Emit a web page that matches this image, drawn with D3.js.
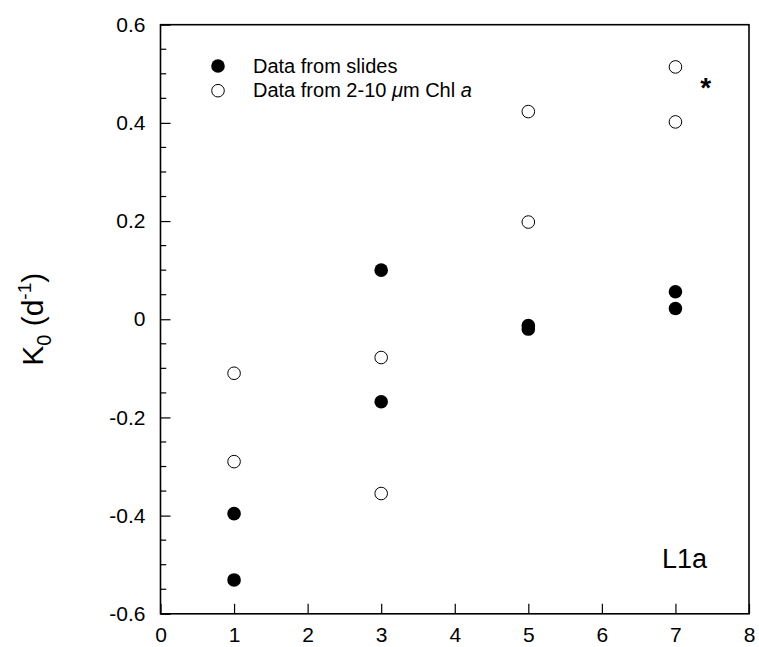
<!DOCTYPE html>
<html>
<head>
<meta charset="utf-8">
<script src="https://cdn.jsdelivr.net/npm/d3@7"></script>
<style>
  html, body { margin: 0; padding: 0; background: #fff; }
  svg { display: block; font-family: "Liberation Sans", Arial, Helvetica, sans-serif; }
</style>
</head>
<body>
<svg id="chart" width="759" height="647"></svg>
<script>
// ---- data ----
const xTicks = [0, 1, 2, 3, 4, 5, 6, 7, 8];
const yTicks = [-0.6, -0.4, -0.2, 0, 0.2, 0.4, 0.6];
const yTickLabels = ["-0.6", "-0.4", "-0.2", "0", "0.2", "0.4", "0.6"];
const slidesX = [1, 1, 3, 3, 5, 5, 7, 7];
const slidesY = [-0.396, -0.531, 0.100, -0.168, -0.013, -0.020, 0.056, 0.022];
const chlX = [1, 1, 3, 3, 5, 5, 7, 7];
const chlY = [-0.110, -0.290, -0.078, -0.355, 0.423, 0.198, 0.514, 0.402];
const legendLabels = ["Data from slides", "Data from 2-10 "];
const panelLabel = "L1a";
const starPos = [7.41, 0.48];

// ---- layout ----
const svg = d3.select("#chart");
const L = 160.5, R = 749, T = 24.7, B = 613.8;
const x = d3.scaleLinear().domain([0, 8]).range([L, R]);
const y = d3.scaleLinear().domain([-0.6, 0.6]).range([B, T]);
const font = "'Liberation Sans', Arial, Helvetica, sans-serif";

// minor ticks on y
const yMinor = d3.range(-0.6, 0.6001, 0.05).filter(v => Math.abs(Math.round(v * 5) - v * 5) > 1e-6);
svg.append("g").selectAll("line").data(yMinor).join("line")
  .attr("x1", L).attr("x2", L + 5.7)
  .attr("y1", d => y(d)).attr("y2", d => y(d))
  .attr("stroke", "#000").attr("stroke-width", 1.2);

// y axis
const yAxis = d3.axisLeft(y).tickValues(yTicks)
  .tickFormat((d, i) => yTickLabels[i])
  .tickSizeInner(-10).tickSizeOuter(0).tickPadding(15);
const gy = svg.append("g").attr("transform", `translate(${L},0)`).call(yAxis);
gy.select(".domain").remove();
gy.selectAll(".tick line").attr("stroke", "#000").attr("stroke-width", 1.2);
gy.selectAll(".tick text").attr("font-size", 21).attr("font-family", font).attr("fill", "#000");

// x axis
const xAxis = d3.axisBottom(x).tickValues(xTicks).tickFormat(d3.format("d"))
  .tickSizeInner(-10).tickSizeOuter(0).tickPadding(13);
const gx = svg.append("g").attr("transform", `translate(0,${B})`).call(xAxis);
gx.select(".domain").remove();
gx.selectAll(".tick line").attr("stroke", "#000").attr("stroke-width", 1.2);
gx.selectAll(".tick text").attr("font-size", 21).attr("font-family", font).attr("fill", "#000");

// frame
svg.append("rect").attr("x", L).attr("y", T).attr("width", R - L).attr("height", B - T)
  .attr("fill", "none").attr("stroke", "#000").attr("stroke-width", 1.6);

// data points
const slides = slidesX.map((v, i) => [v, slidesY[i]]);
const chl = chlX.map((v, i) => [v, chlY[i]]);
svg.append("g").selectAll("circle").data(chl).join("circle")
  .attr("cx", d => x(d[0])).attr("cy", d => y(d[1])).attr("r", 6.3)
  .attr("fill", "#fff").attr("stroke", "#000").attr("stroke-width", 1);
svg.append("g").selectAll("circle").data(slides).join("circle")
  .attr("cx", d => x(d[0])).attr("cy", d => y(d[1])).attr("r", 6.8)
  .attr("fill", "#000");

// asterisk
svg.append("text").attr("x", x(starPos[0])).attr("y", y(starPos[1]) + 13)
  .attr("text-anchor", "middle").attr("font-size", 28).attr("font-weight", "bold")
  .attr("font-family", font).text("*");

// legend
const lg = svg.append("g");
lg.append("circle").attr("cx", 218).attr("cy", 66).attr("r", 6.8).attr("fill", "#000");
lg.append("circle").attr("cx", 218).attr("cy", 90.7).attr("r", 6.3)
  .attr("fill", "#fff").attr("stroke", "#000").attr("stroke-width", 1);
lg.append("text").attr("x", 253).attr("y", 72.7).attr("font-size", 20)
  .attr("font-family", font).text(legendLabels[0]);
const t2 = lg.append("text").attr("x", 253).attr("y", 96.7).attr("font-size", 20)
  .attr("font-family", font);
t2.append("tspan").text(legendLabels[1]);
t2.append("tspan").attr("font-style", "italic").text("μ");
t2.append("tspan").text("m Chl ");
t2.append("tspan").attr("font-style", "italic").text("a");

// panel label
svg.append("text").attr("x", 662).attr("y", 567.7).attr("font-size", 27)
  .attr("font-family", font).text(panelLabel);

// y title
const yt = svg.append("text")
  .attr("transform", `translate(43,${(T + B) / 2}) rotate(-90)`)
  .attr("text-anchor", "middle").attr("font-size", 30).attr("font-family", font);
yt.append("tspan").text("K");
yt.append("tspan").attr("font-size", 20).attr("dy", 8).text("0");
yt.append("tspan").attr("dy", -8).text(" (d");
yt.append("tspan").attr("font-size", 19).attr("dy", -12).text("-1");
yt.append("tspan").attr("dy", 12).text(")");
</script>
</body>
</html>
